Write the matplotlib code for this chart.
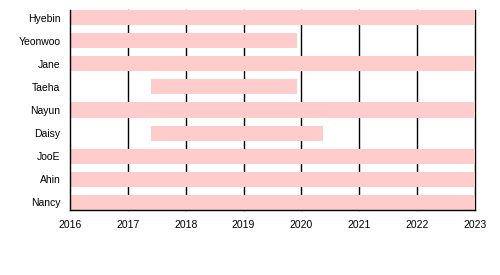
import matplotlib.pyplot as plt

# members, top to bottom
members = ["Hyebin", "Yeonwoo", "Jane", "Taeha", "Nayun", "Daisy", "JooE", "Ahin", "Nancy"]
starts = [2016, 2016, 2016, 2017.4, 2016, 2017.4, 2016, 2016, 2016]
ends = [2023, 2019.92, 2023, 2019.92, 2023, 2020.37, 2023, 2023, 2023]
years = list(range(2016, 2024))

plt.rcParams['font.family'] = ['Liberation Sans', 'DejaVu Sans']

fig = plt.figure(figsize=(5, 2.75), dpi=100)
ax = fig.add_axes([0.14, 0.2364, 0.81, 0.7272])

rows = list(range(len(members)))[::-1]
widths = [e - s for s, e in zip(starts, ends)]
ax.barh(rows, widths, left=starts, height=0.65, color="#ffcccc", zorder=2)

for y in years[1:]:
    ax.axvline(y, color="black", lw=1, zorder=1, clip_on=False)

ax.set_xlim(years[0], years[-1])
ax.set_ylim(-0.325, len(members) - 1 + 0.325)
ax.set_xticks(years)
ax.set_xticklabels([str(y) for y in years], fontsize=7.5)
ax.set_yticks(rows)
ax.set_yticklabels(members, fontsize=7.5)
ax.tick_params(axis="y", length=0, pad=7)
ax.tick_params(axis="x", length=0, pad=7)

for s in ["top", "right"]:
    ax.spines[s].set_visible(False)
ax.spines["left"].set_linewidth(1)
ax.spines["bottom"].set_linewidth(1)
ax.spines["left"].set_zorder(3)

fig.savefig("out.png", dpi=100)
